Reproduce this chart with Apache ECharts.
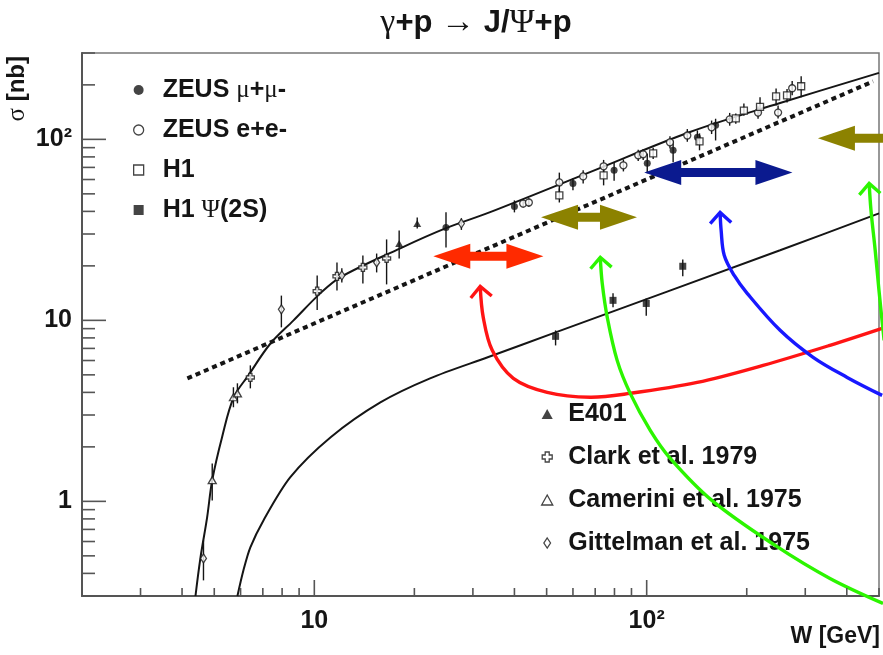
<!DOCTYPE html>
<html>
<head>
<meta charset="utf-8">
<title>gamma p -> J/Psi p</title>
<script src="https://cdn.jsdelivr.net/npm/echarts@6.0.0/dist/echarts.min.js"></script>
<style>
html,body{margin:0;padding:0;background:#ffffff;}
#chart{width:883px;height:655px;}
</style>
</head>
<body>
<div id="chart"></div>
<script>
// ---------------- axis ranges and ticks ----------------
const xRange = [2, 500];
const yRange = [0.3, 300];
const xMajorTicks = [10, 100];
const xMinorTicks = [2, 3, 4, 5, 6, 7, 8, 9, 20, 30, 40, 50, 60, 70, 80, 90, 200, 300, 400, 500];
const yMajorTicks = [1, 10, 100];
const yMinorTicks = [0.3, 0.4, 0.5, 0.6, 0.7, 0.8, 0.9, 2, 3, 4, 5, 6, 7, 8, 9, 20, 30, 40, 50, 60, 70, 80, 90, 200, 300];
const decadeLabels = ['1', '10', '10²'];   // 10^0, 10^1, 10^2

// ---------------- data (W [GeV], sigma [nb]) ----------------
const zeusMuW  = [24.9, 40.0, 60.0, 79.8, 100.4, 120.1, 142.1, 161.2];
const zeusMuS  = [32.6, 42.6, 57.1, 67.4, 73.7, 87.1, 102.6, 119.5];
const zeusMuLo = [25.3, 39.5, 52.3, 59.0, 64.9, 74.7, 93.0, 98.6];
const zeusMuHi = [39.5, 46.0, 60.9, 74.7, 83.6, 98.6, 112.0, 130.0];

const zeusEeW  = [42.5, 44.2, 54.6, 64.4, 74.2, 85.1, 94.3, 97.6, 117.5, 132.5, 156.8, 177.7, 216.3, 248.5, 274.0];
const zeusEeS  = [44.2, 44.8, 57.8, 62.4, 71.0, 71.9, 81.6, 82.7, 96.3, 105.0, 116.5, 129.0, 140.6, 140.6, 191.6];
const zeusEeLo = [42.0, 42.4, 51.0, 57.1, 65.0, 66.5, 76.0, 77.0, 89.0, 97.0, 107.0, 119.0, 130.0, 130.5, 175.0];
const zeusEeHi = [46.6, 47.3, 65.5, 67.5, 77.0, 77.5, 87.5, 88.5, 104.0, 114.0, 127.0, 140.0, 152.0, 153.9, 210.0];

const h1W  = [54.6, 74.2, 104.6, 144.2, 185.4, 196.1, 219.3, 245.1, 264.4, 291.6];
const h1S  = [49.0, 63.2, 83.6, 97.5, 130.5, 144.0, 151.2, 172.8, 174.9, 196.5];
const h1Lo = [44.8, 55.7, 78.0, 87.0, 122.0, 135.0, 139.0, 153.9, 160.0, 170.6];
const h1Hi = [53.6, 69.0, 90.0, 107.9, 139.0, 158.0, 171.0, 191.0, 190.0, 223.0];

const h1Psi2sW  = [53.2, 79.2, 99.7, 128.4];
const h1Psi2sS  = [8.16, 12.9, 12.4, 19.9];
const h1Psi2sLo = [7.27, 11.8, 10.6, 17.5];
const h1Psi2sHi = [8.8, 14.1, 13.2, 21.7];

const e401W  = [18.0, 20.4];
const e401S  = [26.6, 34.3];
const e401Lo = [22.0, 32.2];
const e401Hi = [31.4, 37.0];

const clarkW  = [6.42, 10.2, 11.7, 14.0, 16.5];
const clarkS  = [4.84, 14.5, 17.5, 19.6, 22.0];
const clarkLo = [4.21, 11.4, 14.6, 16.0, 15.8];
const clarkHi = [5.64, 17.7, 20.9, 22.8, 28.0];

const cameriniW  = [4.93, 5.71, 5.87];
const cameriniS  = [1.31, 3.76, 3.95];
const cameriniLo = [1.01, 3.31, 3.48];
const cameriniHi = [1.62, 4.27, 4.49];

const gittelmanW  = [4.64, 7.96, 12.1, 15.4, 27.7];
const gittelmanS  = [0.484, 11.5, 17.7, 20.9, 34.3];
const gittelmanLo = [0.366, 9.15, 16.2, 18.4, 31.6];
const gittelmanHi = [0.609, 13.7, 19.4, 23.4, 36.6];

// fitted curves
const fitJpsiW = [4.39, 4.54, 4.76, 4.93, 5.28, 5.72, 6.35, 7.38, 8.66, 10.4, 11.97, 18.14, 24.9, 33.8, 67.5, 135, 252, 500];
const fitJpsiS = [0.30, 0.483, 0.819, 1.31, 2.27, 3.75, 5.0, 7.45, 10.0, 14.05, 17.3, 25.0, 32.3, 39.6, 65.9, 109.8, 158.7, 233];
const fitPsi2sW = [5.87, 6.12, 6.42, 7.03, 8.47, 11.2, 15.8, 22.3, 33.4, 53.2, 252, 500];
const fitPsi2sS = [0.30, 0.416, 0.557, 0.785, 1.36, 2.26, 3.52, 4.78, 6.27, 8.58, 24.4, 39.0];
const powerLawW = [4.15, 480];
const powerLawS = [4.78, 209];

// horizontal range arrows: W from, W to, sigma
const rangeArrowFromW = [22.8, 48.1, 98.3, 327.5];
const rangeArrowToW   = [48.9, 93.5, 274.5, 520];
const rangeArrowS     = [22.6, 37.1, 65.6, 101.3];
const rangeArrowBothEnds = [true, true, true, false];

// curved pointer arrows (first point = arrow tip)
const redCurveW = [31.56, 32.23, 34.3, 39.7, 50.2, 67.6, 89.2, 141.9, 224, 356, 511];
const redCurveS = [15.41, 10.39, 6.83, 4.78, 4.0, 3.76, 3.95, 4.54, 5.64, 7.28, 9.03];
const greenCurveW = [72.5, 73.5, 76.1, 81.5, 89.2, 102.5, 117.7, 157.4, 243.5, 356, 514];
const greenCurveS = [22.3, 16.0, 10.39, 6.01, 3.95, 2.47, 1.73, 1.01, 0.571, 0.375, 0.273];
const blueCurveW = [166.3, 167.5, 171.1, 183.4, 200.6, 252, 316.8, 401, 511];
const blueCurveS = [39.5, 31.4, 22.9, 17.7, 14.1, 8.81, 6.25, 4.84, 3.85];
const green2CurveW = [467, 473, 487, 500, 518];
const green2CurveS = [57.1, 40.5, 24.4, 14.6, 7.75];

// ---------------- styling ----------------
const FONT = '"Liberation Sans", Arial, Helvetica, sans-serif';
const SYMF = '"Liberation Serif", "DejaVu Serif", serif';
const INK = '#151515';
const P_SQUARE = 'path://M0,0L10,0L10,10L0,10Z';
const P_TRI = 'path://M5,0L10,9L0,9Z';
const P_DIAM = 'path://M4,0L8,6L4,12L0,6Z';
const P_CROSS = 'path://M3,0L7,0L7,3L10,3L10,7L7,7L7,10L3,10L3,7L0,7L0,3L3,3Z';

const pointSets = [
  {name: 'ZEUS μ+μ-', W: zeusMuW, S: zeusMuS, lo: zeusMuLo, hi: zeusMuHi, symbol: 'circle', size: 7, open: false},
  {name: 'ZEUS e+e-', W: zeusEeW, S: zeusEeS, lo: zeusEeLo, hi: zeusEeHi, symbol: 'circle', size: 7, open: true},
  {name: 'H1', W: h1W, S: h1S, lo: h1Lo, hi: h1Hi, symbol: P_SQUARE, size: 7, open: true},
  {name: 'H1 Ψ(2S)', W: h1Psi2sW, S: h1Psi2sS, lo: h1Psi2sLo, hi: h1Psi2sHi, symbol: P_SQUARE, size: 7, open: false},
  {name: 'E401', W: e401W, S: e401S, lo: e401Lo, hi: e401Hi, symbol: P_TRI, size: [8, 7], open: false},
  {name: 'Clark et al. 1979', W: clarkW, S: clarkS, lo: clarkLo, hi: clarkHi, symbol: P_CROSS, size: 8, open: true},
  {name: 'Camerini et al. 1975', W: cameriniW, S: cameriniS, lo: cameriniLo, hi: cameriniHi, symbol: P_TRI, size: [8, 7], open: true},
  {name: 'Gittelman et al. 1975', W: gittelmanW, S: gittelmanS, lo: gittelmanLo, hi: gittelmanHi, symbol: P_DIAM, size: [6, 9], open: true}
];

function itemStyleFor(ps) {
  return ps.open ? {color: '#ffffff', borderColor: INK, borderWidth: 1.3}
                 : {color: INK, borderColor: INK, borderWidth: 0};
}

function isDecade(v) { const l = Math.log10(v); return Math.abs(l - Math.round(l)) < 1e-6; }
function decadeLabel(v) {
  if (!isDecade(v)) return '';
  const k = Math.round(Math.log10(v));
  return decadeLabels[k] !== undefined ? decadeLabels[k] : '';
}

function tickSeries(axis) {
  const majors = axis === 'x' ? xMajorTicks : yMajorTicks;
  const vals = majors.concat(axis === 'x' ? xMinorTicks : yMinorTicks);
  return {
    type: 'custom', silent: true, clip: false, z: 10,
    data: vals.map(v => axis === 'x' ? [v, yRange[0]] : [xRange[0], v]),
    encode: {x: 0, y: 1},
    renderItem(params, api) {
      const p = api.coord([api.value(0), api.value(1)]);
      const v = axis === 'x' ? api.value(0) : api.value(1);
      const major = majors.some(m => Math.abs(m - v) < 1e-9);
      const len = axis === 'x' ? (major ? 16 : 8) : (major ? 24 : 13);
      const shape = axis === 'x'
        ? {x1: p[0], y1: p[1], x2: p[0], y2: p[1] - len}
        : {x1: p[0], y1: p[1], x2: p[0] + len, y2: p[1]};
      return {type: 'line', shape: shape, style: {stroke: '#555', lineWidth: 1.6}};
    }
  };
}

function curvedArrowSeries(Ws, Ss, color) {
  return {
    type: 'custom', silent: true, clip: false, z: 8,
    data: Ws.map((w, i) => [w, Ss[i]]),
    encode: {x: 0, y: 1},
    renderItem(params, api) {
      if (params.dataIndex !== 0) return null;
      const pts = Ws.map((w, i) => api.coord([w, Ss[i]]));
      const t = pts[0], n = pts[1];
      const dx = t[0] - n[0], dy = t[1] - n[1];
      const L = Math.hypot(dx, dy) || 1;
      const bx = -dx / L, by = -dy / L;
      const ang = 0.78, len = 15;
      const w1 = [t[0] + len * (bx * Math.cos(ang) - by * Math.sin(ang)), t[1] + len * (bx * Math.sin(ang) + by * Math.cos(ang))];
      const w2 = [t[0] + len * (bx * Math.cos(-ang) - by * Math.sin(-ang)), t[1] + len * (bx * Math.sin(-ang) + by * Math.cos(-ang))];
      return {
        type: 'group',
        children: [
          {type: 'polyline', shape: {points: pts, smooth: 0.35}, style: {stroke: color, lineWidth: 3.4, fill: null}},
          {type: 'polyline', shape: {points: [w1, t, w2]}, style: {stroke: color, lineWidth: 3.4, fill: null, lineJoin: 'miter'}}
        ]
      };
    }
  };
}

const rangeArrowColors = ['#ff2a00', '#8c8200', '#0b1a8f', '#8c8200'];

const series = [];

// fit curves
series.push({
  type: 'line', name: 'fitJpsi', data: fitJpsiW.map((w, i) => [w, fitJpsiS[i]]),
  showSymbol: false, smooth: 0.35, silent: true, z: 2,
  lineStyle: {color: INK, width: 2}
});
series.push({
  type: 'line', name: 'fitPsi2s', data: fitPsi2sW.map((w, i) => [w, fitPsi2sS[i]]),
  showSymbol: false, smooth: 0.3, silent: true, z: 2,
  lineStyle: {color: INK, width: 2}
});
series.push({
  type: 'line', name: 'powerLaw', data: powerLawW.map((w, i) => [w, powerLawS[i]]),
  showSymbol: false, silent: true, z: 2,
  lineStyle: {color: INK, width: 4, type: [5, 4], cap: 'butt'}
});

// error bars
const errData = [];
pointSets.forEach(ps => ps.W.forEach((w, i) => errData.push([w, ps.lo[i], ps.hi[i]])));
series.push({
  type: 'custom', silent: true, z: 3, clip: true,
  data: errData, encode: {x: 0, y: [1, 2]},
  renderItem(params, api) {
    const a = api.coord([api.value(0), api.value(1)]);
    const b = api.coord([api.value(0), api.value(2)]);
    return {type: 'line', shape: {x1: a[0], y1: a[1], x2: b[0], y2: b[1]}, style: {stroke: INK, lineWidth: 1.4}};
  }
});

// markers
pointSets.forEach(ps => {
  series.push({
    type: 'scatter', name: ps.name, z: 4,
    data: ps.W.map((w, i) => [w, ps.S[i]]),
    symbol: ps.symbol, symbolSize: ps.size,
    itemStyle: itemStyleFor(ps)
  });
});

// horizontal range arrows
series.push({
  type: 'custom', silent: true, clip: false, z: 7,
  data: rangeArrowFromW.map((w, i) => [w, rangeArrowToW[i], rangeArrowS[i]]),
  encode: {x: [0, 1], y: 2},
  renderItem(params, api) {
    const i = params.dataIndex;
    const p1 = api.coord([api.value(0), api.value(2)]);
    const p2 = api.coord([api.value(1), api.value(2)]);
    const y = p1[1], HL = 37, HH = 12.5, SH = 4.5;
    let pts;
    if (rangeArrowBothEnds[i]) {
      pts = [[p1[0], y], [p1[0] + HL, y - HH], [p1[0] + HL, y - SH], [p2[0] - HL, y - SH], [p2[0] - HL, y - HH],
             [p2[0], y], [p2[0] - HL, y + HH], [p2[0] - HL, y + SH], [p1[0] + HL, y + SH], [p1[0] + HL, y + HH]];
    } else {
      pts = [[p1[0], y], [p1[0] + HL, y - HH], [p1[0] + HL, y - SH], [p2[0], y - SH],
             [p2[0], y + SH], [p1[0] + HL, y + SH], [p1[0] + HL, y + HH]];
    }
    return {type: 'polygon', shape: {points: pts}, style: {fill: rangeArrowColors[i], stroke: null}};
  }
});

// curved arrows
series.push(curvedArrowSeries(redCurveW, redCurveS, '#ff1414'));
series.push(curvedArrowSeries(blueCurveW, blueCurveS, '#1818ff'));
series.push(curvedArrowSeries(greenCurveW, greenCurveS, '#2cf500'));
series.push(curvedArrowSeries(green2CurveW, green2CurveS, '#2cf500'));

// ticks
series.push(tickSeries('x'));
series.push(tickSeries('y'));

function legendData(names) {
  return names.map(n => {
    const ps = pointSets.find(p => p.name === n);
    return {name: n, icon: ps.symbol, itemStyle: itemStyleFor(ps)};
  });
}
const legendText = {
  fontFamily: FONT, fontSize: 25, fontWeight: 'bold', color: INK, lineHeight: 28,
  rich: {g: {fontFamily: SYMF, fontSize: 25, fontWeight: 'normal', color: INK, lineHeight: 28}}
};
const legendFmt = n => n.replace(/([μΨ])/g, '{g|$1}');

const option = {
  animation: false,
  backgroundColor: '#ffffff',
  grid: {left: 82, right: 4, top: 53, bottom: 59, containLabel: false, show: true,
         borderColor: '#777', borderWidth: 1.5, backgroundColor: 'transparent'},
  xAxis: {
    type: 'log', logBase: 10, min: xRange[0], max: xRange[1],
    axisLine: {show: true, lineStyle: {color: '#555', width: 2}},
    axisTick: {show: false}, splitLine: {show: false}, minorTick: {show: false},
    axisLabel: {show: true, margin: 13, formatter: decadeLabel, color: INK,
                fontFamily: FONT, fontSize: 25, fontWeight: 'bold', showMinLabel: true, showMaxLabel: true, hideOverlap: false}
  },
  yAxis: {
    type: 'log', logBase: 10, min: yRange[0], max: yRange[1],
    axisLine: {show: true, lineStyle: {color: '#555', width: 2}},
    axisTick: {show: false}, splitLine: {show: false}, minorTick: {show: false},
    axisLabel: {show: true, margin: 10, formatter: decadeLabel, color: INK,
                fontFamily: FONT, fontSize: 25, fontWeight: 'bold', hideOverlap: false}
  },
  legend: [
    {data: legendData(['ZEUS μ+μ-', 'ZEUS e+e-', 'H1', 'H1 Ψ(2S)']), orient: 'vertical',
     left: 133, top: 76, itemWidth: 38, itemHeight: 10, itemGap: 12, padding: 0,
     selectedMode: false, textStyle: legendText, formatter: legendFmt},
    {data: legendData(['E401', 'Clark et al. 1979', 'Camerini et al. 1975', 'Gittelman et al. 1975']), orient: 'vertical',
     left: 541, top: 400, itemWidth: 32, itemHeight: 10, itemGap: 15, padding: 0,
     selectedMode: false, textStyle: legendText, formatter: legendFmt}
  ],
  graphic: [
    {type: 'text', x: 476, y: 23, silent: true,
     style: {text: '{g|γ}+p {g|→} J/{g|Ψ}+p', fontFamily: FONT, fontSize: 31, fontWeight: 'bold', fill: INK,
             align: 'center', verticalAlign: 'middle',
             rich: {g: {fontFamily: SYMF, fontSize: 34, fontWeight: 'normal', fill: INK}}}},
    {type: 'text', x: 17, y: 56, rotation: Math.PI / 2, silent: true,
     style: {text: '{g|σ} [nb]', fontFamily: FONT, fontSize: 24, fontWeight: 'bold', fill: INK,
             align: 'right', verticalAlign: 'middle',
             rich: {g: {fontFamily: SYMF, fontSize: 25, fontWeight: 'normal', fill: INK}}}},
    {type: 'text', x: 880, y: 637, silent: true,
     style: {text: 'W [GeV]', fontFamily: FONT, fontSize: 23, fontWeight: 'bold', fill: INK,
             align: 'right', verticalAlign: 'middle'}}
  ],
  series: series
};

const chart = echarts.init(document.getElementById('chart'), null, {renderer: 'canvas'});
chart.setOption(option);
</script>
</body>
</html>
